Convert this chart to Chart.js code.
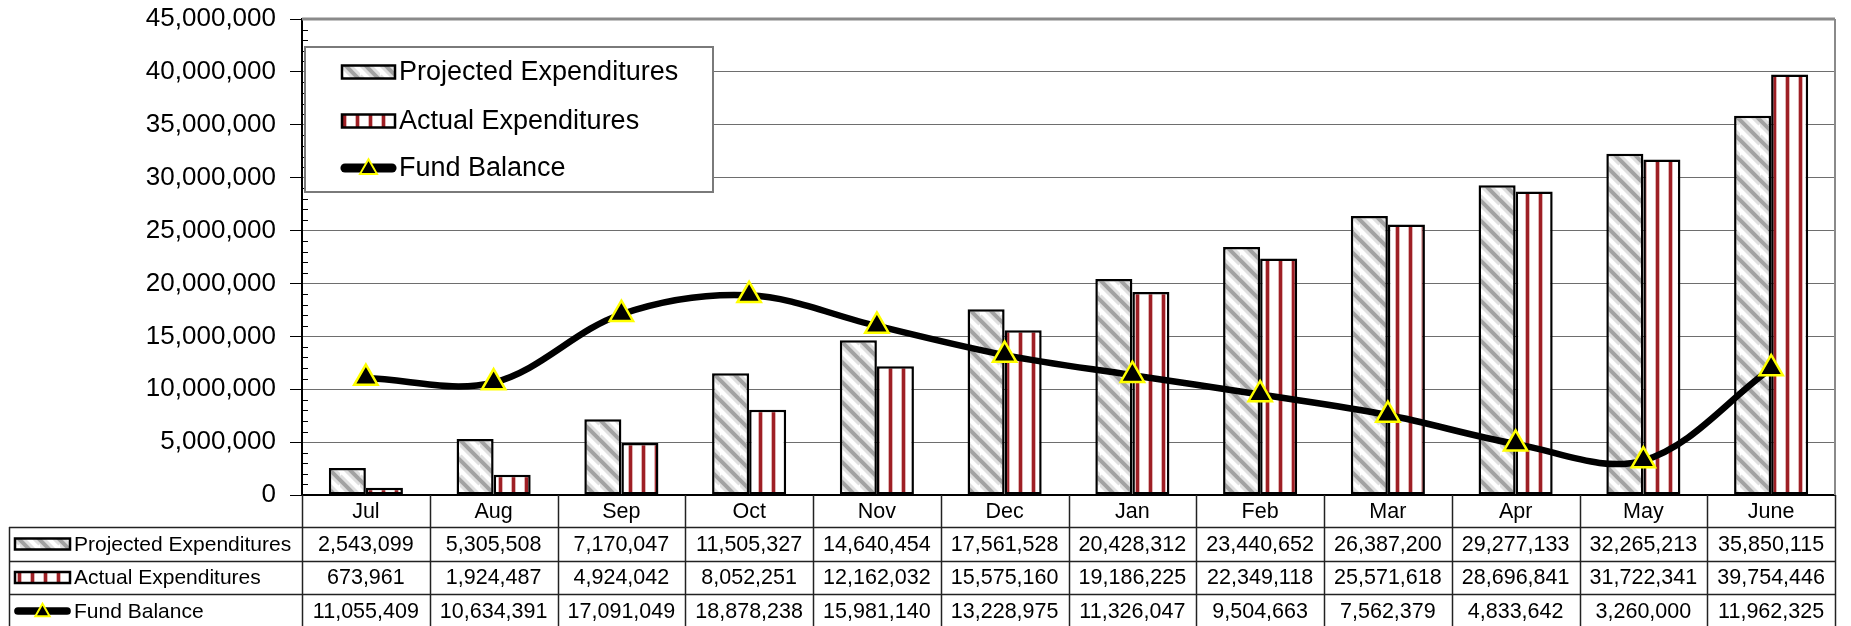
<!DOCTYPE html>
<html>
<head>
<meta charset="utf-8">
<script src="https://cdn.jsdelivr.net/npm/chart.js@4/dist/chart.umd.min.js"></script>
<style>
  html, body { margin: 0; padding: 0; background: #fff; overflow: hidden; }
  #wrap { width: 1851px; height: 626px; }
</style>
</head>
<body>
<div id="wrap"><canvas id="chart" width="1851" height="626"></canvas></div>
<script>
// data
var months = ['Jul', 'Aug', 'Sep', 'Oct', 'Nov', 'Dec', 'Jan', 'Feb', 'Mar', 'Apr', 'May', 'June'];
var projected = [2543099, 5305508, 7170047, 11505327, 14640454, 17561528, 20428312, 23440652, 26387200, 29277133, 32265213, 35850115];
var actual = [673961, 1924487, 4924042, 8052251, 12162032, 15575160, 19186225, 22349118, 25571618, 28696841, 31722341, 39754446];
var fundBalance = [11055409, 10634391, 17091049, 18878238, 15981140, 13228975, 11326047, 9504663, 7562379, 4833642, 3260000, 11962325];
var yTickValues = [0, 5000000, 10000000, 15000000, 20000000, 25000000, 30000000, 35000000, 40000000, 45000000];
var seriesNames = ['Projected Expenditures', 'Actual Expenditures', 'Fund Balance'];

var FONT = 'Arial, "Liberation Sans", sans-serif';
function fmt(v) { return Number(v).toLocaleString('en-US'); }

var canvas = document.getElementById('chart');
var ctx = canvas.getContext('2d');

// hatch patterns
function diagPattern() {
  var s = 20, t = document.createElement('canvas');
  t.width = s; t.height = s;
  var g = t.getContext('2d');
  g.fillStyle = '#fff'; g.fillRect(0, 0, s, s);
  [[10, 'rgba(210,210,210,0.7)'], [4, '#a2a2a2']].forEach(function (p) {
    g.lineWidth = p[0]; g.strokeStyle = p[1];
    for (var k = -1; k <= 1; k++) {
      g.beginPath(); g.moveTo(-2, k * s - 2); g.lineTo(s + 2, k * s + s + 2); g.stroke();
    }
  });
  return ctx.createPattern(t, 'repeat');
}
function vertPattern() {
  var w = 13, t = document.createElement('canvas');
  t.width = w; t.height = 4;
  var g = t.getContext('2d');
  g.fillStyle = '#fff'; g.fillRect(0, 0, w, 4);
  g.fillStyle = 'rgba(200,120,120,0.55)'; g.fillRect(4, 0, 5, 4);
  g.fillStyle = '#9e1f25'; g.fillRect(5, 0, 3, 4);
  return ctx.createPattern(t, 'repeat');
}
var diag = diagPattern();
var vert = vertPattern();

function drawTriangle(c, x, y, r, lw) {
  c.beginPath();
  c.moveTo(x, y - r);
  c.lineTo(x + r * 0.866, y + r * 0.5);
  c.lineTo(x - r * 0.866, y + r * 0.5);
  c.closePath();
  c.fillStyle = '#000'; c.fill();
  c.lineWidth = lw; c.strokeStyle = '#ffff00'; c.stroke();
}
function swatch(c, i, x0, x1, y, h) {
  if (i === 2) {
    c.save();
    c.lineCap = 'round'; c.lineWidth = h * 0.7; c.strokeStyle = '#000';
    c.beginPath(); c.moveTo(x0 + 3, y); c.lineTo(x1 - 3, y); c.stroke();
    drawTriangle(c, (x0 + x1) / 2, y + 1, h * 0.75, 2);
    c.restore();
    return;
  }
  c.fillStyle = i === 0 ? diag : vert;
  c.fillRect(x0, y - h / 2, x1 - x0, h);
  c.lineWidth = 2.5; c.strokeStyle = '#000';
  c.strokeRect(x0, y - h / 2, x1 - x0, h);
}

var extras = {
  id: 'extras',
  beforeDatasetsDraw: function (chart) {
    var c = chart.ctx, a = chart.chartArea, y = chart.scales.y;
    c.save();
    // minor ticks on the value axis
    c.strokeStyle = '#000'; c.lineWidth = 1;
    for (var v = 1000000; v < 45000000; v += 1000000) {
      if (v % 5000000 === 0) continue;
      var py = Math.round(y.getPixelForValue(v)) + 0.5;
      c.beginPath(); c.moveTo(a.left, py); c.lineTo(a.left + 6, py); c.stroke();
    }
    // plot frame top / right
    c.strokeStyle = '#8a8a8a'; c.lineWidth = 3;
    c.beginPath(); c.moveTo(a.left, a.top); c.lineTo(a.right, a.top); c.stroke();
    c.lineWidth = 2;
    c.beginPath(); c.moveTo(a.right, a.top); c.lineTo(a.right, a.bottom); c.stroke();
    c.restore();
  },
  afterDraw: function (chart) {
    var c = chart.ctx, a = chart.chartArea, x = chart.scales.x;
    c.save();

    // legend inside plot
    c.fillStyle = '#fff';
    c.fillRect(305, 47, 408, 145);
    c.strokeStyle = '#7a7a7a'; c.lineWidth = 2;
    c.strokeRect(305, 47, 408, 145);
    var ly = [72, 121, 168];
    c.font = '27px ' + FONT; c.textBaseline = 'middle'; c.textAlign = 'left';
    for (var i = 0; i < 3; i++) {
      swatch(c, i, 342, 395, ly[i], 13);
      c.fillStyle = '#000';
      c.fillText(seriesNames[i], 399, ly[i] + 1);
    }

    // data table
    var n = months.length, cw = (a.right - a.left) / n;
    var rows = [a.bottom, 527, 561, 594, 628];
    c.strokeStyle = '#222'; c.lineWidth = 1.5;
    for (var k = 0; k <= n; k++) {
      var vx = Math.round(a.left + k * cw) + 0.5;
      c.beginPath(); c.moveTo(vx, rows[0]); c.lineTo(vx, rows[4]); c.stroke();
    }
    for (var r = 1; r <= 3; r++) {
      c.beginPath(); c.moveTo(9, rows[r] + 0.5); c.lineTo(a.right, rows[r] + 0.5); c.stroke();
    }
    c.beginPath(); c.moveTo(9.5, rows[1]); c.lineTo(9.5, rows[4]); c.stroke();

    c.font = '21.5px ' + FONT; c.textAlign = 'center'; c.fillStyle = '#000';
    var series = [projected, actual, fundBalance];
    for (var j = 0; j < n; j++) {
      var cx = x.getPixelForValue(j);
      c.fillText(months[j], cx, (rows[0] + rows[1]) / 2 + 1);
      for (var s = 0; s < 3; s++) {
        c.fillText(fmt(series[s][j]), cx, (rows[s + 1] + rows[s + 2]) / 2 + 1);
      }
    }
    c.font = '21px ' + FONT; c.textAlign = 'left';
    for (var s2 = 0; s2 < 3; s2++) {
      var ry = (rows[s2 + 1] + rows[s2 + 2]) / 2;
      swatch(c, s2, 15, 70, ry, 11);
      c.fillStyle = '#000';
      c.fillText(seriesNames[s2], 74, ry + 1);
    }
    c.restore();
  }
};

new Chart(ctx, {
  data: {
    labels: months,
    datasets: [
      { type: 'bar', label: seriesNames[0], data: projected, backgroundColor: diag, borderColor: '#000', borderWidth: 2.5, borderSkipped: false, barPercentage: 1, categoryPercentage: 0.58, order: 1 },
      { type: 'bar', label: seriesNames[1], data: actual, backgroundColor: vert, borderColor: '#000', borderWidth: 2.5, borderSkipped: false, barPercentage: 1, categoryPercentage: 0.58, order: 1 },
      { type: 'line', label: seriesNames[2], data: fundBalance, borderColor: '#000', borderWidth: 6.5, tension: 0.35, fill: false,
        pointStyle: 'triangle', pointRadius: 13.5, pointHoverRadius: 13.5, pointBackgroundColor: '#000', pointBorderColor: '#ffff00', pointBorderWidth: 2.5, order: 0 }
    ]
  },
  options: {
    responsive: false, animation: false, devicePixelRatio: 1,
    layout: { padding: { left: 0, right: 6, top: 19, bottom: 131 } },
    plugins: { legend: { display: false }, tooltip: { enabled: false }, title: { display: false } },
    scales: {
      x: {
        offset: true,
        grid: { display: false, drawTicks: false },
        border: { display: true, color: '#000', width: 2 },
        ticks: { display: false },
        afterFit: function (s) { s.height = 0; s.paddingLeft = 0; s.paddingRight = 0; }
      },
      y: {
        min: 0, max: 45000000,
        afterBuildTicks: function (s) { s.ticks = yTickValues.map(function (v) { return { value: v }; }); },
        ticks: { color: '#000', padding: 14, font: { family: FONT, size: 26 }, callback: function (v) { return fmt(v); } },
        grid: { color: '#6e6e6e', lineWidth: 1, tickLength: 12, tickColor: '#000' },
        border: { color: '#000', width: 2 },
        afterFit: function (s) { s.width = 302; s.paddingTop = 0; s.paddingBottom = 0; }
      }
    }
  },
  plugins: [extras]
});
</script>
</body>
</html>
